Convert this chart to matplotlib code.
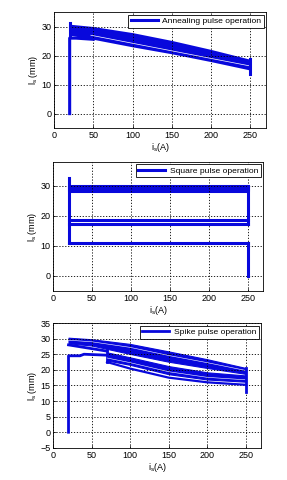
import matplotlib
matplotlib.use("Agg")
import matplotlib.pyplot as plt
import numpy as np

plt.rcParams['font.family'] = ['Liberation Sans', 'DejaVu Sans']
plt.rcParams['font.size'] = 6.5

BLUE = '#0808dc'

# ---- annealing pulse operation ----
ann_start_x = [20, 20, 28, 50]
ann_start_y = [0, 26, 26, 25.6]
ann_band_x = [20, 50, 100, 150, 200, 250]
ann_band_top = [30.8, 30.0, 27.9, 25.2, 22.1, 18.7]
ann_band_bot = [27.0, 25.6, 23.0, 20.6, 17.9, 15.0]
ann_gap_x = [47, 250]
ann_gap_y = [27.0, 16.4]
ann_end_x = [250, 250]
ann_end_y = [18.7, 13.5]
ann_spike_x = [20, 20]
ann_spike_y = [27.0, 31.3]

# ---- square pulse operation ----
sq_left_x = [20, 20]
sq_left_y = [11, 32.5]
sq_top_x = [20, 250]
sq_top_hi = [30.0, 30.0]
sq_top_lo = [28.4, 28.4]
sq_mid_y = [18.7, 17.2]
sq_low_y = 11
sq_right_y = [17.2, 30.0]
sq_end_y = [11, 0]

# ---- spike pulse operation ----
sp_start_x = [20, 20, 35, 40, 70]
sp_start_y = [0, 24.5, 24.5, 25.0, 24.7]
sp_up_x = [20, 50, 100, 150, 200, 250]
sp_up_top = [30.3, 29.8, 28.3, 25.9, 23.4, 20.6]
sp_up_bot = [28.5, 27.8, 25.1, 22.6, 20.6, 18.7]
sp_up_gap = [29.5, 29.0, 27.2, 24.6, 22.3, 19.8]
sp_wedge_x = [20, 45, 70]
sp_wedge_y = [28.0, 27.0, 26.0]
sp_step_x = [70, 70]
sp_step_y = [26.3, 22.6]
sp_mid_x = [70, 100, 150, 200, 250]
sp_mid_top = [25.6, 24.0, 21.2, 19.2, 18.2]
sp_mid_bot = [23.0, 21.6, 18.6, 16.9, 16.2]
sp_mid_gap = [23.8, 22.3, 19.4, 17.6, 16.8]
sp_low_x = [70, 100, 150, 200, 250]
sp_low_y = [22.5, 20.4, 17.5, 16.0, 15.2]
sp_end_x = [250, 250]
sp_end_y = [20.6, 13.0]

fig = plt.figure(figsize=(2.87, 4.8), dpi=100)


def style_axes(ax, ylim, yticks):
    ax.set_xlim(0, 270)
    ax.set_ylim(*ylim)
    ax.set_xticks([0, 50, 100, 150, 200, 250])
    ax.set_yticks(yticks)
    ax.grid(True, color='black', linestyle=(0, (1.5, 2)), linewidth=0.6)
    ax.tick_params(direction='in', length=2, width=0.5, pad=2)
    for s in ax.spines.values():
        s.set_linewidth(0.6)
    ax.set_xlabel(r'i$_\mathregular{s}$(A)', labelpad=1)
    ax.set_ylabel(r'l$_\mathregular{s}$ (mm)', labelpad=1)
    leg = ax.legend(loc='upper right', fancybox=False, handlelength=3.2,
                    borderpad=0.3, borderaxespad=0.3, handletextpad=0.5,
                    framealpha=1, edgecolor='black', fontsize=6.1)
    leg.get_frame().set_linewidth(0.6)


# panel 1
ax1 = fig.add_axes([0.188, 0.733, 0.739, 0.242])
ax1.fill_between(ann_band_x, ann_band_bot, ann_band_top, color=BLUE, lw=0)
ax1.plot(ann_start_x, ann_start_y, color=BLUE, lw=2.2, label='Annealing pulse operation')
ax1.plot(ann_gap_x, ann_gap_y, color='white', lw=0.5)
ax1.plot(ann_end_x, ann_end_y, color=BLUE, lw=2.2)
ax1.plot(ann_spike_x, ann_spike_y, color=BLUE, lw=2.2)
style_axes(ax1, (-5, 35), [0, 10, 20, 30])

# panel 2
ax2 = fig.add_axes([0.185, 0.394, 0.732, 0.269])
ax2.plot(sq_left_x, sq_left_y, color=BLUE, lw=2.2, label='Square pulse operation')
ax2.fill_between(sq_top_x, sq_top_lo, sq_top_hi, color=BLUE, lw=2.2, edgecolor=BLUE)
for y in sq_mid_y:
    ax2.plot(sq_top_x, [y, y], color=BLUE, lw=2.2)
ax2.plot(sq_top_x, [sq_low_y, sq_low_y], color=BLUE, lw=2.2)
ax2.plot([250, 250], sq_right_y, color=BLUE, lw=2.2)
ax2.plot([250, 250], sq_end_y, color=BLUE, lw=2.2)
style_axes(ax2, (-5, 38), [0, 10, 20, 30])

# panel 3
ax3 = fig.add_axes([0.185, 0.067, 0.725, 0.26])
ax3.plot(sp_start_x, sp_start_y, color=BLUE, lw=2.0, label='Spike pulse operation')
ax3.fill_between(sp_up_x, sp_up_bot, sp_up_top, color=BLUE, lw=0.8, edgecolor=BLUE)
ax3.plot(sp_up_x, sp_up_gap, color='white', lw=0.4)
ax3.plot(sp_wedge_x, sp_wedge_y, color=BLUE, lw=2.0)
ax3.plot(sp_step_x, sp_step_y, color=BLUE, lw=2.0)
ax3.fill_between(sp_mid_x, sp_mid_bot, sp_mid_top, color=BLUE, lw=0.8, edgecolor=BLUE)
ax3.plot(sp_mid_x, sp_mid_gap, color='white', lw=0.4)
ax3.plot(sp_low_x, sp_low_y, color=BLUE, lw=1.6)
ax3.plot(sp_end_x, sp_end_y, color=BLUE, lw=2.0)
style_axes(ax3, (-5, 35), [-5, 0, 5, 10, 15, 20, 25, 30, 35])

fig.savefig('out.png', dpi=100)
